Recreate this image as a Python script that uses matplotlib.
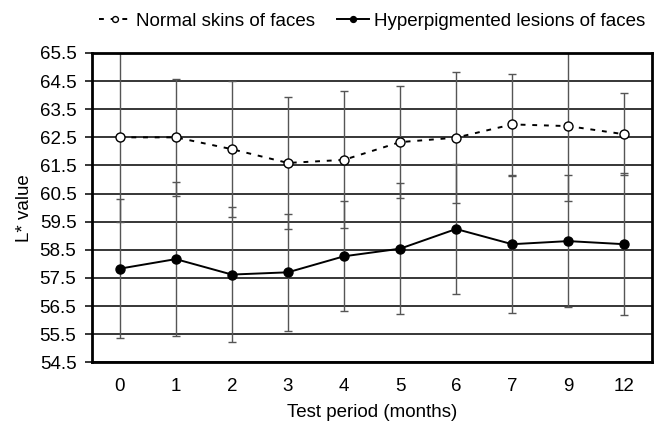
import numpy as np
import matplotlib
matplotlib.use("Agg")
import matplotlib.pyplot as plt

plt.rcParams['font.family'] = ['Liberation Sans', 'DejaVu Sans']

# data
months = ['0', '1', '2', '3', '4', '5', '6', '7', '9', '12']
normal = [62.50, 62.50, 62.08, 61.59, 61.70, 62.33, 62.49, 62.96, 62.90, 62.61]
normal_err = [3.00, 2.08, 2.43, 2.34, 2.44, 1.99, 2.33, 1.80, 2.65, 1.45]
hyper = [57.83, 58.17, 57.62, 57.70, 58.27, 58.54, 59.24, 58.70, 58.81, 58.70]
hyper_err = [2.48, 2.75, 2.41, 2.07, 1.96, 2.33, 2.32, 2.44, 2.36, 2.52]
yticks = [54.5, 55.5, 56.5, 57.5, 58.5, 59.5, 60.5, 61.5, 62.5, 63.5, 64.5, 65.5]

fs = 13.5

fig = plt.figure(figsize=(6.63, 4.33), dpi=100)
ax = fig.add_axes([0.1383, 0.1633, 0.8456, 0.7143])

x = np.arange(len(months))

# error bars first (grey), then the lines on top
ax.errorbar(x, normal, yerr=normal_err, fmt='none', ecolor='#555555',
            elinewidth=1.0, capsize=3, capthick=1.0, zorder=2)
ax.errorbar(x, hyper, yerr=hyper_err, fmt='none', ecolor='#555555',
            elinewidth=1.0, capsize=3, capthick=1.0, zorder=2)

ax.plot(x, normal, linestyle=(0, (2.5, 3.5)), color='black', linewidth=1.4,
        marker='o', markersize=6.5, markerfacecolor='white',
        markeredgecolor='black', markeredgewidth=1.0,
        label='Normal skins of faces', zorder=3)
ax.plot(x, hyper, '-', color='black', linewidth=1.4,
        marker='o', markersize=6.5, markerfacecolor='black',
        markeredgecolor='black', label='Hyperpigmented lesions of faces',
        zorder=3)

ax.set_xlim(-0.5, len(months) - 0.5)
ax.set_ylim(54.5, 65.5)
ax.set_yticks(yticks)
ax.set_yticklabels([f'{v:.1f}' for v in yticks])
ax.set_xticks(x)
ax.set_xticklabels(months)

ax.yaxis.grid(True, color='black', linewidth=1.1)
ax.set_axisbelow(True)

ax.tick_params(axis='y', direction='out', length=5, width=1.1, labelsize=fs, pad=6)
ax.tick_params(axis='x', length=0, labelsize=fs, pad=11)
for s in ax.spines.values():
    s.set_linewidth(2.0)

ax.set_xlabel('Test period (months)', fontsize=fs, labelpad=7)
ax.set_ylabel('L* value', fontsize=fs, labelpad=5)

fig.legend(loc='upper center', bbox_to_anchor=(0.561, 1.01), ncol=2,
           frameon=False, fontsize=fs, handlelength=1.7, handletextpad=0.25,
           columnspacing=1.2, markerscale=0.65)

fig.savefig('out.png', dpi=100)
